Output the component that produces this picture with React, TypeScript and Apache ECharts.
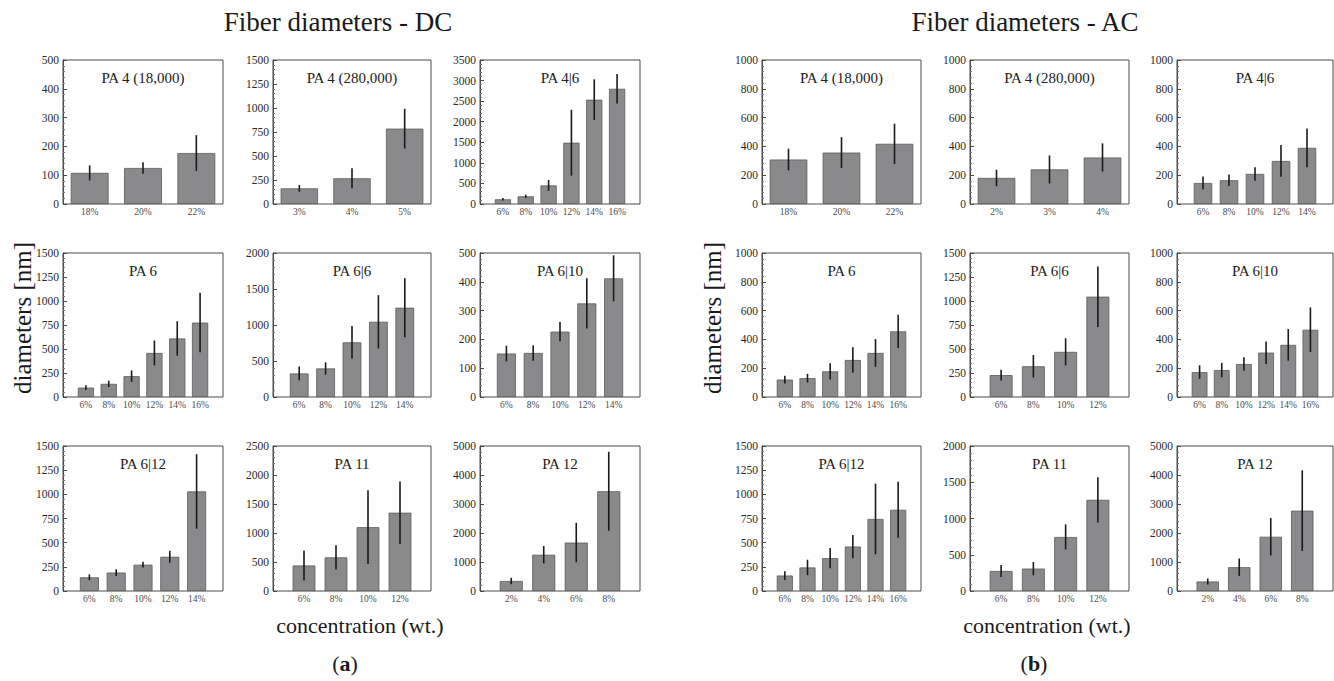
import React, { useEffect, useRef } from "react";
import * as echarts from "echarts";

// ---------- DATA (DC) ----------
const dcPA4_18Cats = ["18%", "20%", "22%"];
const dcPA4_18Mean = [108, 125, 177];
const dcPA4_18Err = [26, 20, 62];

const dcPA4_280Cats = ["3%", "4%", "5%"];
const dcPA4_280Mean = [163, 268, 785];
const dcPA4_280Err = [35, 105, 207];

const dcPA46Cats = ["6%", "8%", "10%", "12%", "14%", "16%"];
const dcPA46Mean = [114, 187, 452, 1490, 2535, 2800];
const dcPA46Err = [30, 40, 130, 800, 495, 360];

const dcPA6Cats = ["6%", "8%", "10%", "12%", "14%", "16%"];
const dcPA6Mean = [98, 137, 217, 459, 610, 775];
const dcPA6Err = [25, 33, 60, 130, 180, 310];

const dcPA66Cats = ["6%", "8%", "10%", "12%", "14%"];
const dcPA66Mean = [327, 397, 760, 1045, 1240];
const dcPA66Err = [95, 85, 225, 370, 410];

const dcPA610Cats = ["6%", "8%", "10%", "12%", "14%"];
const dcPA610Mean = [151, 153, 227, 325, 412];
const dcPA610Err = [27, 27, 33, 87, 80];

const dcPA612Cats = ["6%", "8%", "10%", "12%", "14%"];
const dcPA612Mean = [142, 191, 272, 354, 1030];
const dcPA612Err = [30, 35, 30, 62, 385];

const dcPA11Cats = ["6%", "8%", "10%", "12%"];
const dcPA11Mean = [440, 580, 1100, 1350];
const dcPA11Err = [260, 210, 635, 540];

const dcPA12Cats = ["2%", "4%", "6%", "8%"];
const dcPA12Mean = [345, 1250, 1670, 3440];
const dcPA12Err = [110, 300, 680, 1360];

// ---------- DATA (AC) ----------
const acPA4_18Cats = ["18%", "20%", "22%"];
const acPA4_18Mean = [309, 357, 418];
const acPA4_18Err = [75, 107, 140];

const acPA4_280Cats = ["2%", "3%", "4%"];
const acPA4_280Mean = [181, 240, 323];
const acPA4_280Err = [57, 97, 98];

const acPA46Cats = ["6%", "8%", "10%", "12%", "14%"];
const acPA46Mean = [146, 165, 209, 299, 390];
const acPA46Err = [45, 40, 47, 110, 135];

const acPA6Cats = ["6%", "8%", "10%", "12%", "14%", "16%"];
const acPA6Mean = [121, 131, 178, 257, 306, 456];
const acPA6Err = [27, 30, 57, 89, 96, 116];

const acPA66Cats = ["6%", "8%", "10%", "12%"];
const acPA66Mean = [228, 320, 470, 1045];
const acPA66Err = [56, 117, 142, 315];

const acPA610Cats = ["6%", "8%", "10%", "12%", "14%", "16%"];
const acPA610Mean = [173, 187, 229, 308, 362, 467];
const acPA610Err = [47, 50, 47, 78, 110, 155];

const acPA612Cats = ["6%", "8%", "10%", "12%", "14%", "16%"];
const acPA612Mean = [160, 244, 340, 460, 745, 840];
const acPA612Err = [45, 80, 105, 120, 365, 290];

const acPA11Cats = ["6%", "8%", "10%", "12%"];
const acPA11Mean = [276, 309, 745, 1258];
const acPA11Err = [82, 92, 173, 312];

const acPA12Cats = ["2%", "4%", "6%", "8%"];
const acPA12Mean = [328, 820, 1870, 2770];
const acPA12Err = [105, 300, 645, 1390];

// axis ranges: [max, interval]
const dcAxes = [
  [500, 100], [1500, 250], [3500, 500],
  [1500, 250], [2000, 500], [500, 100],
  [1500, 250], [2500, 500], [5000, 1000],
];
const acAxes = [
  [1000, 200], [1000, 200], [1000, 200],
  [1000, 200], [1500, 250], [1000, 200],
  [1500, 250], [2000, 500], [5000, 1000],
];

const panelTitles = [
  "PA 4 (18,000)", "PA 4 (280,000)", "PA 4|6",
  "PA 6", "PA 6|6", "PA 6|10",
  "PA 6|12", "PA 11", "PA 12",
];

const dcSets = [
  [dcPA4_18Cats, dcPA4_18Mean, dcPA4_18Err],
  [dcPA4_280Cats, dcPA4_280Mean, dcPA4_280Err],
  [dcPA46Cats, dcPA46Mean, dcPA46Err],
  [dcPA6Cats, dcPA6Mean, dcPA6Err],
  [dcPA66Cats, dcPA66Mean, dcPA66Err],
  [dcPA610Cats, dcPA610Mean, dcPA610Err],
  [dcPA612Cats, dcPA612Mean, dcPA612Err],
  [dcPA11Cats, dcPA11Mean, dcPA11Err],
  [dcPA12Cats, dcPA12Mean, dcPA12Err],
];
const acSets = [
  [acPA4_18Cats, acPA4_18Mean, acPA4_18Err],
  [acPA4_280Cats, acPA4_280Mean, acPA4_280Err],
  [acPA46Cats, acPA46Mean, acPA46Err],
  [acPA6Cats, acPA6Mean, acPA6Err],
  [acPA66Cats, acPA66Mean, acPA66Err],
  [acPA610Cats, acPA610Mean, acPA610Err],
  [acPA612Cats, acPA612Mean, acPA612Err],
  [acPA11Cats, acPA11Mean, acPA11Err],
  [acPA12Cats, acPA12Mean, acPA12Err],
];

// ---------- LAYOUT ----------
const W = 1334;
const H = 681;
const colsDC = [[63, 223], [273, 431], [480, 640]];
const colsAC = [[762, 921], [970, 1129], [1177, 1333]];
const rowsY = [[60, 204], [253, 397], [446, 591]];
const innerMargin: Record<number, number> = { 3: 0, 4: 15, 5: 13, 6: 11.5 };

const SERIF = "Liberation Serif";
const BAR_FILL = "#8a8a8c";
const BAR_EDGE = "#5a5a5a";
const BOX = "#4a4a4a";

function buildOption() {
  const grid: any[] = [];
  const xAxis: any[] = [];
  const yAxis: any[] = [];
  const series: any[] = [];
  const graphic: any[] = [];

  const addSide = (sets: any[], axes: number[][], cols: number[][]) => {
    sets.forEach((set, p) => {
      const [cats, means, errs] = set as [string[], number[], number[]];
      const [max, interval] = axes[p];
      const col = cols[p % 3];
      const row = rowsY[Math.floor(p / 3)];
      const m = innerMargin[cats.length] ?? 0;

      // outer grid (box + y axis)
      const gOuter = grid.length;
      grid.push({
        left: col[0], right: W - col[1], top: row[0], bottom: H - row[1],
        show: true, borderColor: BOX, borderWidth: 1, backgroundColor: "transparent",
      });
      xAxis.push({ gridIndex: gOuter, type: "value", show: false, min: 0, max: 1 });
      yAxis.push({
        gridIndex: gOuter, type: "value", min: 0, max, interval,
        axisLine: { show: true, lineStyle: { color: BOX, width: 1 } },
        axisTick: { show: true, inside: true, length: 4, lineStyle: { color: BOX } },
        minorTick: { show: true, splitNumber: 5, length: 2, lineStyle: { color: "#777" } },
        splitLine: { show: false },
        axisLabel: {
          fontFamily: SERIF, fontSize: 11.5, color: "#2a2a2a", margin: 4,
          formatter: (v: number) => String(v),
        },
      });

      // inner grid (bars + categories)
      const gInner = grid.length;
      grid.push({
        left: col[0] + m, right: W - col[1] + m, top: row[0], bottom: H - row[1],
        show: false,
      });
      const xi = xAxis.length;
      xAxis.push({
        gridIndex: gInner, type: "category", data: cats, boundaryGap: true,
        axisLine: { show: false }, axisTick: { show: false },
        axisLabel: { fontFamily: SERIF, fontSize: 9.5, color: "#4a4a4a", margin: 3, interval: 0 },
      });
      const yi = yAxis.length;
      yAxis.push({ gridIndex: gInner, type: "value", min: 0, max, show: false, splitLine: { show: false } });

      series.push({
        type: "bar", xAxisIndex: xi, yAxisIndex: yi, data: means,
        barCategoryGap: "29%",
        itemStyle: { color: BAR_FILL, borderColor: BAR_EDGE, borderWidth: 0.8 },
        silent: true,
      });
      series.push({
        type: "custom", xAxisIndex: xi, yAxisIndex: yi, z: 5,
        data: means.map((v, i) => [i, v, errs[i]]),
        encode: { x: 0, y: 1 },
        renderItem: (params: any, api: any) => {
          const i = api.value(0);
          const v = api.value(1);
          const e = api.value(2);
          const p1 = api.coord([i, v - e]);
          const p2 = api.coord([i, v + e]);
          return {
            type: "line",
            shape: { x1: p1[0], y1: p1[1], x2: p2[0], y2: p2[1] },
            style: { stroke: "#1a1a1a", lineWidth: 1.6 },
          };
        },
        silent: true,
      });

      graphic.push({
        type: "text",
        x: (col[0] + col[1]) / 2,
        y: row[0] + 18,
        style: {
          text: panelTitles[p], fontFamily: SERIF, fontSize: 15, fill: "#222",
          textAlign: "center", textVerticalAlign: "middle", align: "center", verticalAlign: "middle",
        },
      });
    });
  };

  addSide(dcSets, dcAxes, colsDC);
  addSide(acSets, acAxes, colsAC);

  const txt = (text: string, x: number, y: number, size: number, extra: any = {}) => ({
    type: "text", x, y, ...extra,
    style: {
      text, fontFamily: SERIF, fontSize: size, fill: "#1a1a1a",
      textAlign: "center", textVerticalAlign: "middle", align: "center", verticalAlign: "middle",
    },
  });

  graphic.push(txt("Fiber diameters - DC", 338, 22, 27));
  graphic.push(txt("Fiber diameters - AC", 1025, 22, 27));
  graphic.push(txt("diameters [nm]", 22, 318, 25, { rotation: Math.PI / 2 }));
  graphic.push(txt("diameters [nm]", 712, 318, 25, { rotation: Math.PI / 2 }));
  graphic.push(txt("concentration (wt.)", 360, 625, 22));
  graphic.push(txt("concentration (wt.)", 1047, 625, 22));
  const labelRich = {
    n: { fontFamily: SERIF, fontSize: 22, fill: "#1a1a1a", color: "#1a1a1a" },
    b: { fontFamily: SERIF, fontSize: 22, fontWeight: "bold", fill: "#1a1a1a", color: "#1a1a1a" },
  };
  graphic.push({
    type: "text", x: 345, y: 663,
    style: { text: "{n|(}{b|a}{n|)}", rich: labelRich, textAlign: "center", textVerticalAlign: "middle", align: "center", verticalAlign: "middle" },
  });
  graphic.push({
    type: "text", x: 1034, y: 663,
    style: { text: "{n|(}{b|b}{n|)}", rich: labelRich, textAlign: "center", textVerticalAlign: "middle", align: "center", verticalAlign: "middle" },
  });

  return {
    animation: false,
    backgroundColor: "#ffffff",
    grid, xAxis, yAxis, series, graphic,
  };
}

export default function App() {
  const ref = useRef<HTMLDivElement>(null);
  useEffect(() => {
    if (!ref.current) return;
    const chart = echarts.init(ref.current, undefined, { renderer: "svg" });
    chart.setOption(buildOption() as any);
    return () => chart.dispose();
  }, []);
  return (
    <div
      ref={ref}
      style={{ position: "fixed", left: 0, top: 0, width: W, height: H, background: "#fff" }}
    />
  );
}
